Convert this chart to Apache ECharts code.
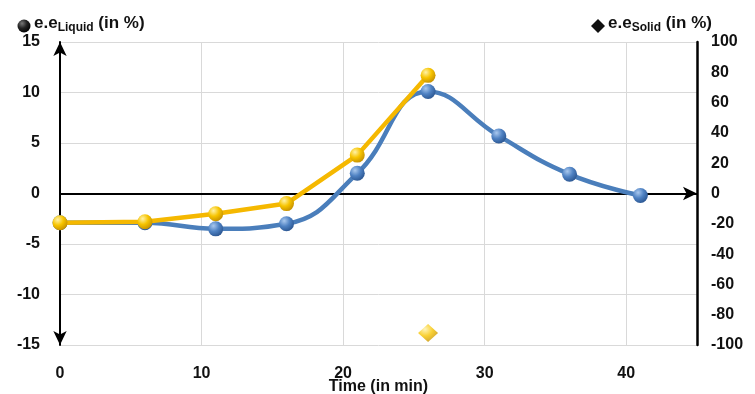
<!DOCTYPE html>
<html><head><meta charset="utf-8">
<script src="https://cdn.jsdelivr.net/npm/echarts@6/dist/echarts.min.js"></script>
<style>html,body{margin:0;padding:0;background:#fff}#c{width:755px;height:394px}</style>
</head><body><div id="c"></div>
<script>
const timeLiquid = [0, 6, 11, 16, 21, 26, 31, 36, 41];
const blueLiquid = [-2.9, -2.9, -3.5, -3.0, 2.0, 10.1, 5.7, 1.9, -0.2];
const timeYellow = [0, 6, 11, 16, 21, 26];
const yellowLiquid = [-2.9, -2.8, -2.0, -1.0, 3.8, 11.7];
const timeSolid = [26];
const yellowSolid = [-92];
const xTicks = [0, 10, 20, 30, 40];

const F = '"Liberation Sans", Arial, sans-serif';
function sphere(light, mid, dark){
  return new echarts.graphic.RadialGradient(0.35,0.3,0.75,[
    {offset:0,color:light},{offset:0.5,color:mid},{offset:1,color:dark}]);
}
const chart = echarts.init(document.getElementById('c'));
chart.setOption({
  animation:false,
  grid:{left:60,right:58,top:42,bottom:49,containLabel:false,outerBoundsMode:'none'},
  xAxis:[{
    type:'value',min:0,max:45,interval:10,
    axisLine:{show:false,onZero:false},axisTick:{show:false},
    axisLabel:{margin:21,fontSize:16,fontWeight:'bold',color:'#111',fontFamily:F,
      formatter:v=>xTicks.includes(v)?String(v):''},
    splitLine:{show:true,lineStyle:{color:'#d9d9d9',width:1}},
    name:'Time (in min)',nameLocation:'middle',nameGap:34,nameMoveOverlap:false,
    nameTextStyle:{fontSize:16,fontWeight:'bold',color:'#111',fontFamily:F}
  },{
    type:'value',min:0,max:45,
    axisLine:{show:true,onZero:true,symbol:['none','arrow'],symbolSize:[10,14],
      lineStyle:{color:'#000',width:2}},
    axisTick:{show:false},axisLabel:{show:false},splitLine:{show:false}
  }],
  yAxis:[{
    type:'value',min:-15,max:15,interval:5,position:'left',
    axisLine:{show:true,onZero:false,symbol:['arrow','arrow'],symbolSize:[10,14],
      lineStyle:{color:'#000',width:2}},
    axisTick:{show:false},
    axisLabel:{margin:20,fontSize:16,fontWeight:'bold',color:'#111',fontFamily:F},
    splitLine:{show:true,lineStyle:{color:'#d9d9d9',width:1}}
  },{
    type:'value',min:-100,max:100,interval:20,position:'right',
    axisLine:{show:true,onZero:false,lineStyle:{color:'#000',width:2.5}},
    axisTick:{show:false},
    axisLabel:{margin:14,fontSize:16,fontWeight:'bold',color:'#111',fontFamily:F},
    splitLine:{show:false}
  }],
  series:[{
    type:'line',xAxisIndex:0,yAxisIndex:0,smooth:0.45,
    data:timeLiquid.map((t,i)=>[t,blueLiquid[i]]),
    lineStyle:{color:'#4a7ebb',width:4.5},
    symbol:'circle',symbolSize:15,
    itemStyle:{color:sphere('#a9c8ee','#4f82c3','#2a5590'),borderWidth:0},
    z:2
  },{
    type:'line',xAxisIndex:0,yAxisIndex:0,smooth:false,
    data:timeYellow.map((t,i)=>[t,yellowLiquid[i]]),
    lineStyle:{color:'#f5b800',width:4.5},
    symbol:'circle',symbolSize:15,
    itemStyle:{color:sphere('#fff2a8','#f7c400','#c48f00'),borderWidth:0},
    z:3
  },{
    type:'scatter',xAxisIndex:0,yAxisIndex:1,
    data:timeSolid.map((t,i)=>[t,yellowSolid[i]]),
    symbol:'diamond',symbolSize:[20,18],
    itemStyle:{color:sphere('#fff2a8','#f7c400','#c48f00')},
    z:3
  }],
  graphic:[
    {type:'circle',shape:{cx:24,cy:26,r:6.5},style:{fill:sphere('#777','#222','#000')}},
    {type:'text',left:34,top:15,style:{
      text:'e.e{s|Liquid} (in %)',fill:'#111',font:'bold 17px '+F,
      rich:{s:{fontSize:12,fontWeight:'bold',fontFamily:F,fill:'#111',verticalAlign:'bottom',padding:[8,0,0,0]}}}},
    {type:'polygon',shape:{points:[[598,19],[605,26],[598,33],[591,26]]},style:{fill:'#111'}},
    {type:'text',left:608,top:15,style:{
      text:'e.e{s|Solid} (in %)',fill:'#111',font:'bold 17px '+F,
      rich:{s:{fontSize:12,fontWeight:'bold',fontFamily:F,fill:'#111',verticalAlign:'bottom',padding:[8,0,0,0]}}}}
  ]
});
</script></body></html>
